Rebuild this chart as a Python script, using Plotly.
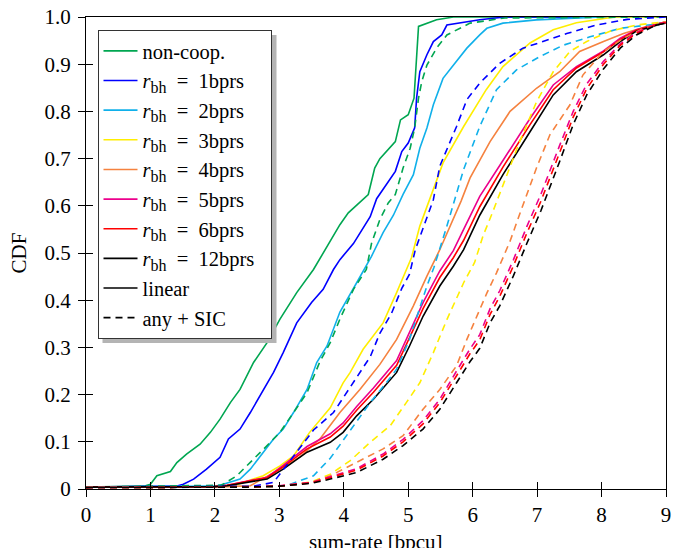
import plotly.graph_objects as go

# ---------------- data ----------------
x_noncoop = [0, 0.9, 1.0, 1.1, 1.31, 1.41, 1.56, 1.77, 1.93, 2.08, 2.24, 2.39, 2.6, 2.81, 3.01, 3.27, 3.53,
             3.74, 3.94, 4.07, 4.38, 4.48, 4.56, 4.8, 4.88, 5.0, 5.09, 5.16, 5.44, 5.7, 9]
y_noncoop = [0.004, 0.006, 0.01, 0.028, 0.037, 0.056, 0.074, 0.095, 0.12, 0.148, 0.183, 0.211, 0.268, 0.31,
             0.36, 0.416, 0.465, 0.514, 0.56, 0.585, 0.624, 0.68, 0.70, 0.736, 0.782, 0.793, 0.828, 0.98,
             0.994, 1.0, 1.0]

x_noncoop_sic = [0, 2.1, 2.34, 2.55, 2.81, 3.01, 3.22, 3.43, 3.63, 3.79, 3.94, 4.15, 4.35, 4.43, 4.56, 4.69,
                 4.80, 4.92, 5.03, 5.10, 5.16, 5.21, 5.29, 5.44, 5.60, 5.80, 5.96, 6.5, 9]
y_noncoop_sic = [0.004, 0.008, 0.028, 0.056, 0.092, 0.12, 0.162, 0.204, 0.27, 0.31, 0.36, 0.423, 0.465,
                 0.52, 0.571, 0.606, 0.624, 0.68, 0.722, 0.765, 0.828, 0.863, 0.898, 0.934, 0.962, 0.976,
                 0.987, 0.998, 1.0]

x_r1 = [0, 1.4, 1.51, 1.67, 1.87, 2.08, 2.21, 2.39, 2.55, 2.70, 2.91, 3.06, 3.27, 3.50, 3.68, 3.84, 3.94,
        4.15, 4.41, 4.51, 4.80, 4.90, 5.0, 5.10, 5.13, 5.18, 5.29, 5.39, 5.52, 5.60, 6.11, 6.5, 9]
y_r1 = [0.004, 0.006, 0.01, 0.021, 0.042, 0.067, 0.106, 0.127, 0.162, 0.197, 0.247, 0.289, 0.352, 0.395,
        0.423, 0.465, 0.486, 0.52, 0.577, 0.615, 0.673, 0.715, 0.733, 0.765, 0.828, 0.884, 0.92, 0.948,
        0.962, 0.983, 0.994, 1.0, 1.0]

x_r1_sic = [0, 2.6, 2.91, 3.11, 3.53, 3.84, 4.10, 4.41, 4.56, 4.74, 4.90, 5.02, 5.11, 5.28, 5.39, 5.49,
            5.75, 5.91, 6.11, 6.42, 6.78, 7.09, 7.46, 7.92, 8.4, 9]
y_r1_sic = [0.003, 0.006, 0.014, 0.049, 0.125, 0.162, 0.215, 0.28, 0.33, 0.372, 0.425, 0.455, 0.507, 0.571,
            0.613, 0.684, 0.768, 0.825, 0.86, 0.902, 0.934, 0.948, 0.965, 0.983, 0.995, 1.0]

x_r2 = [0, 2.0, 2.13, 2.39, 2.55, 2.75, 2.91, 3.06, 3.22, 3.43, 3.58, 3.74, 3.94, 4.20, 4.43, 4.61, 4.77,
        4.92, 5.08, 5.18, 5.29, 5.39, 5.54, 5.70, 5.91, 6.11, 6.22, 6.47, 6.99, 8.0, 9]
y_r2 = [0.004, 0.006, 0.01, 0.021, 0.042, 0.078, 0.106, 0.127, 0.162, 0.211, 0.268, 0.303, 0.375, 0.437,
        0.493, 0.543, 0.58, 0.624, 0.666, 0.722, 0.765, 0.814, 0.87, 0.898, 0.934, 0.962, 0.976, 0.987,
        0.994, 1.0, 1.0]

x_r2_sic = [0, 2.8, 3.11, 3.53, 3.79, 4.10, 4.41, 4.66, 4.82, 5.02, 5.29, 5.40, 5.49, 5.60, 5.86, 6.11,
            6.37, 6.68, 7.04, 7.40, 7.82, 8.29, 8.96, 9]
y_r2_sic = [0.003, 0.004, 0.007, 0.028, 0.065, 0.125, 0.183, 0.225, 0.254, 0.317, 0.43, 0.47, 0.507, 0.557,
            0.677, 0.768, 0.846, 0.888, 0.916, 0.94, 0.958, 0.976, 0.987, 0.99]

x_r3 = [0, 2.0, 2.29, 2.75, 3.01, 3.22, 3.47, 3.79, 3.99, 4.10, 4.30, 4.61, 4.82, 4.97, 5.05, 5.18, 5.54,
        5.86, 6.21, 6.47, 6.89, 7.25, 7.61, 8.2, 9]
y_r3 = [0.004, 0.005, 0.007, 0.028, 0.049, 0.07, 0.12, 0.172, 0.225, 0.247, 0.296, 0.352, 0.416, 0.465,
        0.49, 0.557, 0.691, 0.768, 0.846, 0.895, 0.945, 0.973, 0.988, 1.0, 1.0]

x_r3_sic = [0, 2.5, 3.0, 3.5, 3.8, 4.10, 4.41, 4.72, 4.97, 5.18, 5.39, 5.60, 5.86, 6.03, 6.16, 6.32, 6.73,
            6.99, 7.25, 7.51, 7.77, 8.13, 8.54, 9]
y_r3_sic = [0.003, 0.004, 0.006, 0.015, 0.032, 0.06, 0.099, 0.134, 0.183, 0.225, 0.289, 0.359, 0.437, 0.48,
            0.536, 0.59, 0.736, 0.82, 0.884, 0.927, 0.948, 0.97, 0.983, 0.99]

x_r4 = [0, 2.2, 2.55, 3.01, 3.32, 3.63, 3.94, 4.25, 4.56, 4.82, 5.08, 5.29, 5.49, 5.65, 5.82, 5.96, 6.27,
        6.58, 6.99, 7.35, 7.66, 8.03, 8.34, 8.70, 9]
y_r4 = [0.004, 0.005, 0.007, 0.042, 0.068, 0.106, 0.162, 0.211, 0.264, 0.317, 0.388, 0.451, 0.507, 0.557,
        0.61, 0.659, 0.736, 0.80, 0.849, 0.884, 0.927, 0.948, 0.965, 0.98, 0.99]

x_r4_sic = [0, 2.5, 3.0, 3.5, 3.79, 4.20, 4.61, 4.92, 5.23, 5.49, 5.75, 5.91, 6.06, 6.22, 6.37, 6.50, 6.58,
            6.75, 6.99, 7.20, 7.51, 7.71, 8.03, 8.34, 8.65, 9]
y_r4_sic = [0.003, 0.004, 0.006, 0.014, 0.028, 0.056, 0.085, 0.113, 0.169, 0.211, 0.261, 0.317, 0.366,
            0.415, 0.458, 0.50, 0.525, 0.59, 0.68, 0.751, 0.814, 0.877, 0.927, 0.955, 0.976, 0.99]

x_rhi = [0, 2.0, 2.19, 2.81, 3.06, 3.43, 3.79, 3.99, 4.20, 4.46, 4.82, 5.02, 5.23, 5.49, 5.70, 5.86, 6.11,
         6.47, 6.89, 7.25, 7.61, 8.03, 8.29, 8.54, 8.96, 9]
y_r5 = [0.004, 0.005, 0.008, 0.025, 0.05, 0.09, 0.117, 0.14, 0.175, 0.214, 0.272, 0.332, 0.395, 0.462,
        0.505, 0.55, 0.62, 0.696, 0.785, 0.856, 0.895, 0.928, 0.955, 0.973, 0.988, 0.99]
y_r6 = [0.004, 0.005, 0.008, 0.024, 0.047, 0.085, 0.11, 0.133, 0.167, 0.205, 0.262, 0.32, 0.382, 0.448,
        0.49, 0.527, 0.598, 0.682, 0.772, 0.846, 0.892, 0.926, 0.952, 0.972, 0.988, 0.99]
y_r12 = [0.004, 0.005, 0.007, 0.021, 0.042, 0.078, 0.099, 0.12, 0.155, 0.19, 0.247, 0.303, 0.366, 0.43,
         0.472, 0.507, 0.58, 0.666, 0.757, 0.835, 0.884, 0.92, 0.948, 0.97, 0.987, 0.988]

x_rhi_sic = [0, 2.5, 3.0, 3.5, 3.79, 4.20, 4.61, 4.92, 5.23, 5.49, 5.75, 5.96, 6.11, 6.27, 6.42, 6.63, 6.84,
             7.06, 7.35, 7.56, 7.77, 8.03, 8.29, 8.54, 8.85, 9]
y_r5_sic = [0.003, 0.004, 0.007, 0.014, 0.026, 0.043, 0.074, 0.105, 0.145, 0.19, 0.25, 0.297, 0.327, 0.382,
            0.42, 0.485, 0.556, 0.625, 0.728, 0.8, 0.858, 0.906, 0.943, 0.967, 0.985, 0.989]
y_r6_sic = [0.003, 0.004, 0.006, 0.013, 0.024, 0.04, 0.07, 0.1, 0.138, 0.183, 0.24, 0.287, 0.316, 0.37,
            0.408, 0.472, 0.542, 0.61, 0.713, 0.788, 0.848, 0.9, 0.94, 0.965, 0.984, 0.988]
y_r12_sic = [0.003, 0.004, 0.006, 0.012, 0.021, 0.035, 0.063, 0.092, 0.127, 0.169, 0.225, 0.27, 0.298, 0.352,
             0.388, 0.451, 0.52, 0.59, 0.694, 0.772, 0.835, 0.89, 0.934, 0.962, 0.983, 0.987]

x_ticks = [0, 1, 2, 3, 4, 5, 6, 7, 8, 9]
y_ticks = [0, 0.1, 0.2, 0.3, 0.4, 0.5, 0.6, 0.7, 0.8, 0.9, 1.0]
y_ticklabels = ["0", "0.1", "0.2", "0.3", "0.4", "0.5", "0.6", "0.7", "0.8", "0.9", "1.0"]
x_title = "sum-rate [bpcu]"
y_title = "CDF"

RB = "<i>r</i><sub><span style='font-size:16px'>bh</span></sub>\u2002=\u2002"
series = [
    # name, colour, solid (x, y), SIC (x, y)
    ("non-coop.", "#00A651", (x_noncoop, y_noncoop), (x_noncoop_sic, y_noncoop_sic)),
    (RB + "1bprs", "#0000FF", (x_r1, y_r1), (x_r1_sic, y_r1_sic)),
    (RB + "2bprs", "#10B0EA", (x_r2, y_r2), (x_r2_sic, y_r2_sic)),
    (RB + "3bprs", "#FFEE00", (x_r3, y_r3), (x_r3_sic, y_r3_sic)),
    (RB + "4bprs", "#F5823F", (x_r4, y_r4), (x_r4_sic, y_r4_sic)),
    (RB + "5bprs", "#EC008C", (x_rhi, y_r5), (x_rhi_sic, y_r5_sic)),
    (RB + "6bprs", "#FF0000", (x_rhi, y_r6), (x_rhi_sic, y_r6_sic)),
    (RB + "12bprs\u2002", "#000000", (x_rhi, y_r12), (x_rhi_sic, y_r12_sic)),
]

FONT = "Liberation Serif"
LW = 1.6
DASH = "7px,5px"

fig = go.Figure()
for name, col, (xs, ys), _ in series:
    fig.add_trace(go.Scatter(x=xs, y=ys, mode="lines", name=name,
                             line=dict(color=col, width=LW)))
for name, col, _, (xs, ys) in series:
    fig.add_trace(go.Scatter(x=xs, y=ys, mode="lines", name=name + " + SIC", showlegend=False,
                             line=dict(color=col, width=LW, dash=DASH)))
# legend-only style entries
fig.add_trace(go.Scatter(x=[None], y=[None], mode="lines", name="linear",
                         line=dict(color="black", width=LW)))
fig.add_trace(go.Scatter(x=[None], y=[None], mode="lines", name="any + SIC",
                         line=dict(color="black", width=LW, dash=DASH)))
# helper trace so the overlay axes (outer tick halves) are drawn
fig.add_trace(go.Scatter(x=[None], y=[None], xaxis="x2", yaxis="y2", showlegend=False,
                         hoverinfo="skip"))

axcommon = dict(showgrid=False, zeroline=False, tickcolor="black", tickwidth=1.2, automargin=False)
fig.update_layout(
    width=673, height=548,
    margin=dict(l=86, r=7, t=17, b=59, pad=0, autoexpand=False),
    paper_bgcolor="white", plot_bgcolor="white",
    font=dict(family=FONT, size=21, color="black"),
    showlegend=True,
    xaxis=dict(range=[0, 9], tickvals=x_ticks, ticktext=[str(v) for v in x_ticks],
               ticks="inside", ticklen=7, showline=True, linecolor="black", linewidth=1.3,
               mirror=True, ticklabelstandoff=7, tickfont=dict(family=FONT, size=21),
               **axcommon),
    yaxis=dict(range=[0, 1], tickvals=y_ticks, ticktext=y_ticklabels,
               ticks="inside", ticklen=7, showline=True, linecolor="black", linewidth=1.3,
               mirror=True, ticklabelstandoff=10, tickfont=dict(family=FONT, size=21),
               title=dict(text=y_title, standoff=12, font=dict(family=FONT, size=21)), **axcommon),
    xaxis2=dict(range=[0, 9], overlaying="x", anchor="y", side="bottom", tickvals=x_ticks,
                ticks="outside", ticklen=7, showticklabels=False, showline=False, **axcommon),
    yaxis2=dict(range=[0, 1], overlaying="y", anchor="x", side="left", tickvals=y_ticks,
                ticks="outside", ticklen=7, showticklabels=False, showline=False, **axcommon),
    legend=dict(x=(97.5 - 86) / 580, y=(489 - 30) / 472, xanchor="left", yanchor="top",
                bgcolor="white", bordercolor="#333333", borderwidth=1,
                font=dict(family=FONT, size=20.5), itemwidth=34, tracegroupgap=0),
)

# x-axis title, placed just below the tick labels (partly cut by the lower edge as in the reference)
fig.add_annotation(text=x_title, xref="paper", yref="paper", x=0.5, y=(489 - 528) / 472,
                   xanchor="center", yanchor="top", showarrow=False,
                   font=dict(family=FONT, size=21, color="black"))

# legend drop shadow
fig.add_shape(type="rect", xref="paper", yref="paper", layer="above",
              x0=(102.5 - 86) / 580, x1=(276.5 - 86) / 580,
              y0=(489 - 343) / 472, y1=(489 - 35) / 472,
              fillcolor="#b4b4b4", line=dict(width=0))

fig.write_html("out.html", config={"displayModeBar": False},
               post_script="document.body.style.margin='0';")
